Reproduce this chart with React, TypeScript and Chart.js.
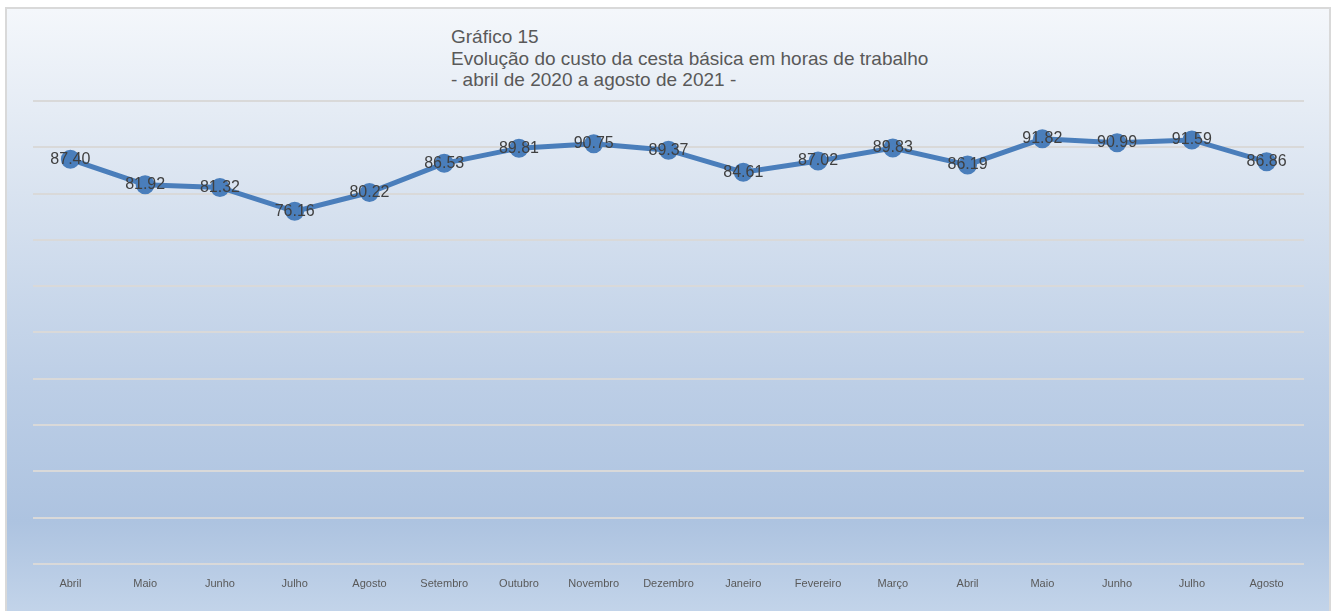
import React, { useEffect, useRef } from "react";
import { Chart, registerables } from "chart.js";

Chart.register(...registerables);

const titleLines = [
  "Gráfico 15",
  "Evolução do custo da cesta básica em horas de trabalho",
  "- abril de 2020 a agosto de 2021 -",
];

const months = [
  "Abril", "Maio", "Junho", "Julho", "Agosto", "Setembro", "Outubro", "Novembro",
  "Dezembro", "Janeiro", "Fevereiro", "Março", "Abril", "Maio", "Junho", "Julho", "Agosto",
];

const hours = [
  87.4, 81.92, 81.32, 76.16, 80.22, 86.53, 89.81, 90.75,
  89.37, 84.61, 87.02, 89.83, 86.19, 91.82, 90.99, 91.59, 86.86,
];

const yMin = 0;
const yMax = 100;
const yStep = 10;

const FONT = "'Liberation Sans', Arial, sans-serif";

const valueLabels = {
  id: "valueLabels",
  afterDatasetsDraw(chart: any) {
    const ctx = chart.ctx;
    const meta = chart.getDatasetMeta(0);
    ctx.save();
    ctx.font = `16px ${FONT}`;
    ctx.fillStyle = "#404040";
    ctx.textAlign = "center";
    ctx.textBaseline = "middle";
    meta.data.forEach((pt: any, i: number) => {
      const v = chart.data.datasets[0].data[i] as number;
      ctx.fillText(v.toFixed(2), pt.x, pt.y);
    });
    ctx.restore();
  },
};

export default function App() {
  const ref = useRef<HTMLCanvasElement | null>(null);

  useEffect(() => {
    if (!ref.current) return;
    const chart = new Chart(ref.current, {
      type: "line",
      data: {
        labels: months,
        datasets: [
          {
            data: hours,
            borderColor: "#4a7ebb",
            backgroundColor: "#4a7ebb",
            pointBackgroundColor: "#4a7ebb",
            pointBorderColor: "#4a7ebb",
            borderWidth: 5,
            pointRadius: 7,
            tension: 0,
          },
        ],
      },
      options: {
        animation: false,
        responsive: false,
        maintainAspectRatio: false,
        layout: { padding: { left: 33, right: 30, top: 101, bottom: 6 } },
        plugins: {
          legend: { display: false },
          tooltip: { enabled: false },
          title: { display: false },
        },
        scales: {
          x: {
            offset: true,
            grid: { display: false, drawTicks: false },
            border: { display: false },
            ticks: {
              color: "#595959",
              font: { family: FONT, size: 11 },
              padding: 14,
              maxRotation: 0,
              autoSkip: false,
            },
          },
          y: {
            min: yMin,
            max: yMax,
            ticks: { display: false, stepSize: yStep },
            grid: { color: "#d9d9d9", lineWidth: 2, drawTicks: false },
            border: { display: false },
            afterFit: (s: any) => {
              s.width = 0;
            },
          },
        },
      },
      plugins: [valueLabels],
    });
    return () => chart.destroy();
  }, []);

  return (
    <div style={{ position: "absolute", left: 0, top: 0, width: 1334, height: 611, overflow: "hidden" }}>
      <div
        style={{
          position: "absolute",
          left: 5,
          top: 7,
          width: 1322,
          height: 610,
          border: "2px solid #d9d9d9",
          background:
            "linear-gradient(to bottom, #f4f7fb 0%, #d9e3f0 30%, #bccee6 62%, #adc3e0 84%, #c4d5ea 100%)",
        }}
      />
      <div
        style={{
          position: "absolute",
          left: 451,
          top: 26,
          fontFamily: FONT,
          fontSize: 19,
          lineHeight: "21.7px",
          color: "#595959",
          whiteSpace: "pre",
        }}
      >
        {titleLines.map((t, i) => (
          <div key={i}>{t}</div>
        ))}
      </div>
      <canvas
        ref={ref}
        width={1334}
        height={611}
        style={{ position: "absolute", left: 0, top: 0, width: 1334, height: 611 }}
      />
    </div>
  );
}
